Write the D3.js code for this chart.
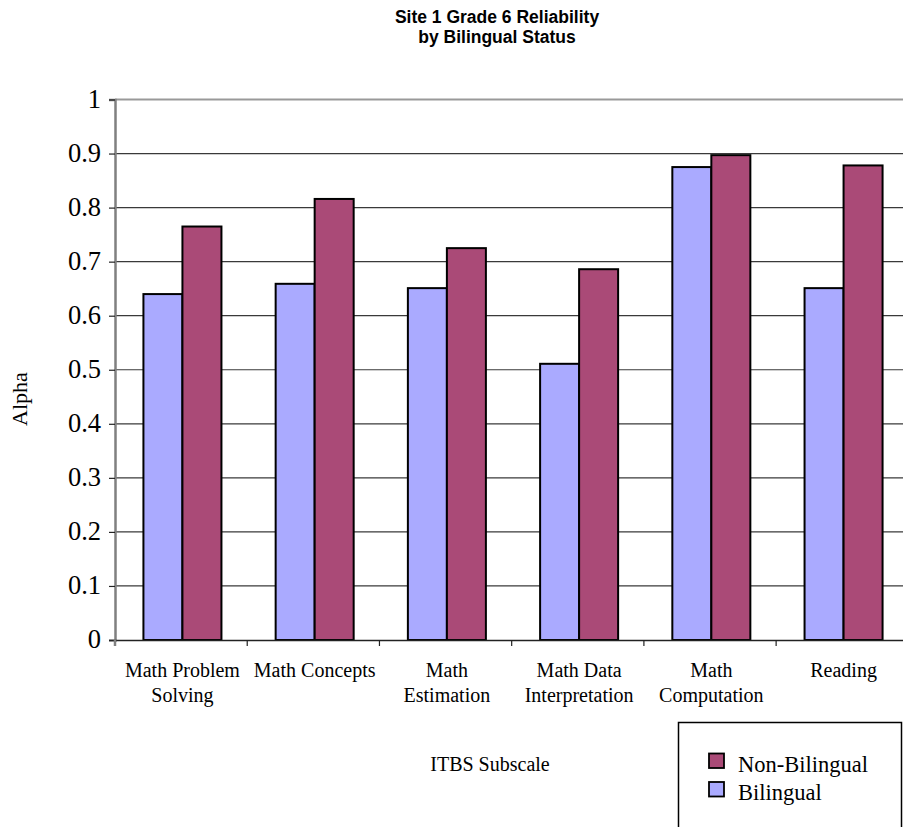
<!DOCTYPE html>
<html>
<head>
<meta charset="utf-8">
<script src="https://cdn.jsdelivr.net/npm/d3@7"></script>
<style>
  html, body { margin: 0; padding: 0; background: #fff; }
  svg { display: block; }
</style>
</head>
<body>
<div id="chart"></div>
<script>
// ---- data ----
const categories = [
  ["Math Problem", "Solving"],
  ["Math Concepts"],
  ["Math", "Estimation"],
  ["Math Data", "Interpretation"],
  ["Math", "Computation"],
  ["Reading"]
];
const categoryKeys = ["Math Problem Solving", "Math Concepts", "Math Estimation",
  "Math Data Interpretation", "Math Computation", "Reading"];
const seriesNames = ["Bilingual", "Non-Bilingual"];
const bilingual    = [0.640, 0.659, 0.651, 0.511, 0.875, 0.651];
const nonBilingual = [0.765, 0.816, 0.725, 0.686, 0.897, 0.878];
const yTicks = [0, 0.1, 0.2, 0.3, 0.4, 0.5, 0.6, 0.7, 0.8, 0.9, 1];
const yTickLabels = ["0", "0.1", "0.2", "0.3", "0.4", "0.5", "0.6", "0.7", "0.8", "0.9", "1"];
const legendOrder = ["Non-Bilingual", "Bilingual"];
const titleLines = ["Site 1 Grade 6 Reliability", "by Bilingual Status"];

// ---- layout ----
const W = 903, H = 827;
const colors = { "Bilingual": "#aaaaff", "Non-Bilingual": "#aa4a77" };
const serif = "'Liberation Serif', 'Times New Roman', serif";
const sans = "'Liberation Sans', Arial, sans-serif";

const svg = d3.select("#chart").append("svg")
  .attr("width", W).attr("height", H);

const plotL = 115, plotR = 911, plotT = 99.5, plotB = 640;

const x = d3.scaleBand().domain(categoryKeys).range([plotL, plotR])
  .paddingInner(0.41).paddingOuter(0.215);
const x1 = d3.scaleBand().domain(seriesNames).range([0, x.bandwidth()]);
const y = d3.scaleLinear().domain([0, 1]).range([plotB, plotT]);

const rows = categoryKeys.map((k, i) => ({
  key: k, values: [
    { name: "Bilingual", v: bilingual[i] },
    { name: "Non-Bilingual", v: nonBilingual[i] }
  ]
}));

// gridlines
svg.append("g").selectAll("line")
  .data(yTicks.filter(t => t > 0 && t < 1))
  .join("line")
  .attr("x1", plotL).attr("x2", plotR)
  .attr("y1", d => y(d)).attr("y2", d => y(d))
  .attr("stroke", "#3a3a3a").attr("stroke-width", 1.2);

// top border of plot area
svg.append("line")
  .attr("x1", plotL).attr("x2", plotR)
  .attr("y1", y(1)).attr("y2", y(1))
  .attr("stroke", "#999").attr("stroke-width", 2);

// bars
const g = svg.append("g").selectAll("g")
  .data(rows).join("g")
  .attr("transform", d => `translate(${x(d.key)},0)`);
g.selectAll("rect")
  .data(d => d.values).join("rect")
  .attr("x", d => x1(d.name))
  .attr("width", x1.bandwidth())
  .attr("y", d => y(d.v))
  .attr("height", d => y(0) - y(d.v))
  .attr("fill", d => colors[d.name])
  .attr("stroke", "#000").attr("stroke-width", 2);

// y axis
const yAxis = svg.append("g")
  .attr("transform", `translate(${plotL},0)`)
  .call(d3.axisLeft(y).tickValues(yTicks)
    .tickFormat((d, i) => yTickLabels[i]).tickSize(6).tickPadding(8));
yAxis.select(".domain").attr("stroke", "#808080").attr("stroke-width", 2.5);
yAxis.selectAll(".tick line").attr("stroke", "#222").attr("stroke-width", 1.2);
yAxis.selectAll(".tick text")
  .attr("font-family", serif).attr("font-size", 26.5).attr("fill", "#000")
  .attr("dy", "0.3em");

// x axis
const xAxis = svg.append("g")
  .attr("transform", `translate(0,${plotB})`)
  .call(d3.axisBottom(x).tickSize(0).tickFormat(""));
xAxis.select(".domain").attr("stroke", "#222").attr("stroke-width", 1.5);
// category separator ticks (including the axis start)
const bounds = categoryKeys.map(k => x(k) - x.step() * x.paddingOuter());
svg.append("g").selectAll("line")
  .data(bounds).join("line")
  .attr("x1", d => d).attr("x2", d => d)
  .attr("y1", plotB).attr("y2", plotB + 6)
  .attr("stroke", (d, i) => i === 0 ? "#808080" : "#222")
  .attr("stroke-width", (d, i) => i === 0 ? 2.5 : 1.2);

// category labels
const labels = svg.append("g").selectAll("text")
  .data(categories).join("text")
  .attr("x", (d, i) => x(categoryKeys[i]) + x.bandwidth() / 2)
  .attr("y", 676.5)
  .attr("text-anchor", "middle")
  .attr("font-family", serif).attr("font-size", 20).attr("fill", "#000");
labels.selectAll("tspan").data(d => d).join("tspan")
  .attr("x", function () { return d3.select(this.parentNode).attr("x"); })
  .attr("dy", (d, i) => i === 0 ? 0 : 25)
  .text(d => d);

// title
svg.append("g").selectAll("text")
  .data(titleLines).join("text")
  .attr("x", 497).attr("y", (d, i) => 23 + i * 20)
  .attr("text-anchor", "middle")
  .attr("font-family", sans).attr("font-weight", "bold")
  .attr("font-size", 17.5).attr("fill", "#000")
  .text(d => d);

// axis titles
svg.append("text")
  .attr("transform", "translate(27,399) rotate(-90)")
  .attr("text-anchor", "middle")
  .attr("font-family", serif).attr("font-size", 22).attr("fill", "#000")
  .text("Alpha");
svg.append("text")
  .attr("x", 490).attr("y", 770.5)
  .attr("text-anchor", "middle")
  .attr("font-family", serif).attr("font-size", 20).attr("fill", "#000")
  .text("ITBS Subscale");

// legend
const leg = svg.append("g");
leg.append("rect")
  .attr("x", 678.5).attr("y", 722.5).attr("width", 223).attr("height", 140)
  .attr("fill", "#fff").attr("stroke", "#000").attr("stroke-width", 1.5);
const li = leg.selectAll("g.item").data(legendOrder).join("g")
  .attr("class", "item")
  .attr("transform", (d, i) => `translate(0,${i * 28.5})`);
li.append("rect")
  .attr("x", 709).attr("y", 753.5).attr("width", 15).attr("height", 14.5)
  .attr("fill", d => colors[d]).attr("stroke", "#000").attr("stroke-width", 1.8);
li.append("text")
  .attr("x", 738).attr("y", 771.5)
  .attr("font-family", serif).attr("font-size", 22.5).attr("fill", "#000")
  .text(d => d);
</script>
</body>
</html>
